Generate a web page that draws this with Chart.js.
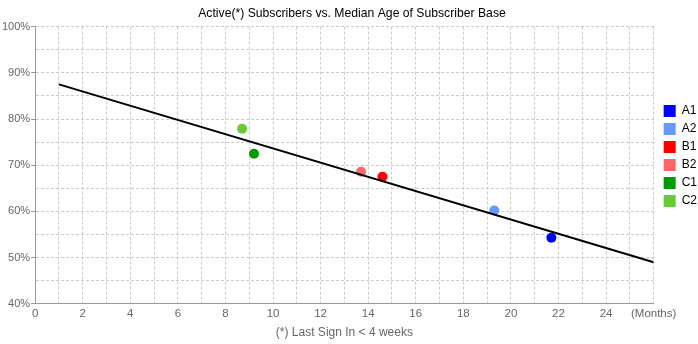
<!DOCTYPE html>
<html>
<head>
<meta charset="utf-8">
<script src="https://cdn.jsdelivr.net/npm/chart.js@4/dist/chart.umd.min.js"></script>
<style>
  html, body { margin: 0; padding: 0; background: #fff; }
  #wrap { width: 698px; height: 344px; }
</style>
</head>
<body>
<div id="wrap"><canvas id="scatterChart"></canvas></div>
<script>
var groups = ["A1", "A2", "B1", "B2", "C1", "C2"];
var ages = [21.7, 19.3, 14.6, 13.7, 9.2, 8.7];        // median age, months
var active = [54.3, 60.2, 67.5, 68.6, 72.5, 77.9];    // active subscribers, %
var colors = ["#0000ff", "#6699ff", "#ff0000", "#ff6666", "#009900", "#66cc33"];
var trendX = [1, 26];
var trendY = [87.5, 49];

var datasets = groups.map(function (g, i) {
  return {
    label: g,
    data: [{ x: ages[i], y: active[i] }],
    backgroundColor: colors[i],
    borderColor: colors[i],
    pointRadius: 5,
    pointHoverRadius: 5,
    borderWidth: 0
  };
});
datasets.unshift({
  label: "trend",
  type: "line",
  data: trendX.map(function (x, i) { return { x: x, y: trendY[i] }; }),
  borderColor: "#000",
  borderWidth: 2,
  pointRadius: 0,
  fill: false
});

// nudge the legend up/right a bit, like the original
var legendShift = {
  id: "legendShift",
  afterLayout: function (c) {
    var lg = c.legend;
    if (!lg) return;
    lg.top -= 14; lg.bottom -= 14;
    lg.left += 4; lg.right += 4;
  }
};

Chart.defaults.font.family = "'Liberation Sans', Arial, sans-serif";
Chart.defaults.color = "#666";

var ctx = document.getElementById("scatterChart");
var chart = new Chart(ctx, {
  type: "scatter",
  data: { datasets: datasets },
  options: {
    responsive: true,
    maintainAspectRatio: false,
    animation: false,
    layout: { padding: { left: 1, right: -5, top: 0, bottom: 4 } },
    plugins: {
      title: {
        display: true,
        text: "Active(*) Subscribers vs. Median Age of Subscriber Base",
        color: "#000",
        font: { size: 12.2, weight: "normal" },
        padding: { top: 6, bottom: 6 }
      },
      legend: {
        position: "right",
        labels: {
          boxWidth: 12,
          boxHeight: 12,
          padding: 6,
          color: "#666",
          font: { size: 12 },
          filter: function (item) { return item.text !== "trend"; },
          generateLabels: function (c) {
            return c.data.datasets.map(function (d, i) {
              return {
                text: d.label,
                fillStyle: d.backgroundColor || "#000",
                strokeStyle: d.backgroundColor || "#000",
                lineWidth: 0,
                datasetIndex: i
              };
            });
          }
        }
      },
      tooltip: { enabled: false }
    },
    scales: {
      x: {
        type: "linear",
        min: 0,
        max: 26,
        title: {
          display: true,
          text: "(*) Last Sign In < 4 weeks",
          color: "#666",
          font: { size: 12 },
          padding: { top: 2, bottom: 0 }
        },
        ticks: {
          stepSize: 1,
          autoSkip: false,
          maxRotation: 0,
          font: { size: 11.5 },
          padding: 3,
          callback: function (v) {
            if (v === 26) return "(Months)";
            return v % 2 === 0 ? v : "";
          }
        },
        grid: { color: "#ccc", tickLength: 0, drawTicks: false },
        border: { color: "#999", dash: [3, 2], display: true }
      },
      y: {
        min: 40,
        max: 100,
        ticks: {
          stepSize: 5,
          autoSkip: false,
          font: { size: 11 },
          padding: 1,
          callback: function (v) { return v % 10 === 0 ? v + "%" : ""; }
        },
        grid: {
          color: "#ccc",
          tickLength: 4,
          drawTicks: true,
          tickColor: function (c) {
            return c.tick && c.tick.value % 10 === 0 ? "#999" : "rgba(0,0,0,0)";
          }
        },
        border: { color: "#999", dash: [3, 2] }
      }
    }
  },
  plugins: [legendShift]
});
</script>
</body>
</html>
